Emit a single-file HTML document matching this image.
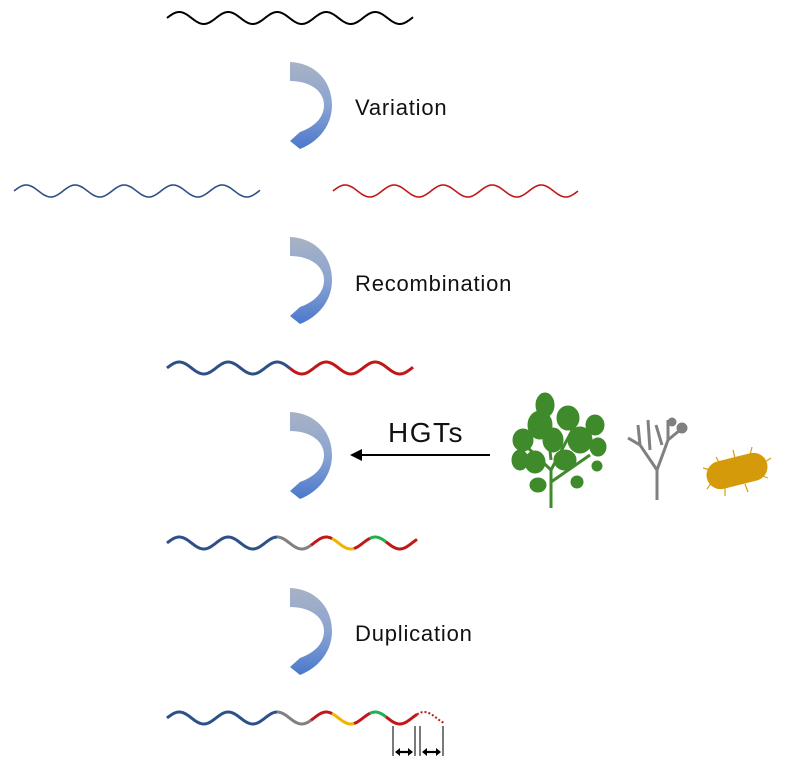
<!DOCTYPE html>
<html><head><meta charset="utf-8"><style>
body{margin:0;background:#fff;}
svg{display:block;}
text{font-family:"Liberation Sans",sans-serif;fill:#111;}
</style></head><body>
<svg id="s" width="785" height="768" viewBox="0 0 785 768" xmlns="http://www.w3.org/2000/svg">
<defs>
<linearGradient id="g" x1="0" y1="0" x2="0" y2="1">
<stop offset="0" stop-color="#a9b2c4"/><stop offset="0.5" stop-color="#8aa4d2"/><stop offset="1" stop-color="#4a78cc"/>
</linearGradient>
<path id="arr" d="M290,62 C316,63 332,82 332,105 C332,126 318,142 300,149 L290,141 L300,132 C314,127 324,118 324,105 C324,91 310,81 290,81 Z" fill="url(#g)"/>
</defs>
<use href="#arr"/>
<use href="#arr" y="175"/>
<use href="#arr" y="350"/>
<use href="#arr" y="526"/>
<text x="355" y="115" font-size="22" letter-spacing="0.8" font-weight="300">Variation</text>
<text x="355" y="291" font-size="22" letter-spacing="0.8">Recombination</text>
<text x="355" y="641" font-size="22" letter-spacing="0.8">Duplication</text>
<text x="388" y="442" font-size="28" letter-spacing="1.5">HGTs</text>
<line x1="490" y1="455" x2="358" y2="455" stroke="#000" stroke-width="2"/>
<path d="M350,455 L362,449 L362,461 Z" fill="#000"/>
<g id="w"></g>
<g stroke="#333" stroke-width="1.3">
<line x1="393" y1="726" x2="393" y2="756"/><line x1="415" y1="726" x2="415" y2="756"/>
<line x1="420" y1="726" x2="420" y2="756"/><line x1="443" y1="726" x2="443" y2="756"/>
</g>
<g stroke="#000" stroke-width="2.2">
<line x1="398" y1="752" x2="410" y2="752"/><line x1="425" y1="752" x2="438" y2="752"/>
</g>
<g fill="#000">
<path d="M395,752 L400,748 L400,756Z"/><path d="M413,752 L408,748 L408,756Z"/>
<path d="M422,752 L427,748 L427,756Z"/><path d="M441,752 L436,748 L436,756Z"/>
</g>
<!-- bush -->
<g fill="#3f8a2a" stroke="#3f8a2a">
<path d="M551,508 L551,470 L525,445 M551,470 L575,425 M551,482 L590,455 M551,460 L545,405" stroke-width="3" fill="none"/>
<ellipse cx="545" cy="405" rx="9" ry="12"/>
<ellipse cx="540" cy="425" rx="12" ry="14"/>
<ellipse cx="553" cy="440" rx="10" ry="12"/>
<ellipse cx="523" cy="440" rx="10" ry="11"/>
<ellipse cx="520" cy="460" rx="8" ry="10"/>
<ellipse cx="535" cy="462" rx="10" ry="11"/>
<ellipse cx="568" cy="418" rx="11" ry="12"/>
<ellipse cx="580" cy="440" rx="12" ry="13"/>
<ellipse cx="595" cy="425" rx="9" ry="10"/>
<ellipse cx="598" cy="447" rx="8" ry="9"/>
<ellipse cx="565" cy="460" rx="11" ry="10"/>
<ellipse cx="538" cy="485" rx="8" ry="7"/>
<circle cx="577" cy="482" r="6"/><circle cx="597" cy="466" r="5"/>
</g>
<!-- tree -->
<g stroke="#808080" fill="none" stroke-width="3">
<path d="M657,500 L657,470 L640,445 L638,425 M657,470 L668,440 L668,420 M640,445 L628,438 M668,440 L680,430 M650,450 L648,420 M662,445 L656,425"/>
<circle cx="682" cy="428" r="4" fill="#808080"/><circle cx="672" cy="422" r="3" fill="#808080"/>
</g>
<!-- bacteria -->
<g stroke="#d8a010" stroke-width="1.2">
<line x1="710" y1="470" x2="703" y2="468"/><line x1="712" y1="482" x2="707" y2="489"/><line x1="725" y1="488" x2="725" y2="496"/><line x1="745" y1="484" x2="748" y2="492"/><line x1="760" y1="475" x2="768" y2="478"/><line x1="765" y1="462" x2="771" y2="458"/><line x1="750" y1="455" x2="752" y2="447"/><line x1="735" y1="458" x2="733" y2="450"/><line x1="720" y1="464" x2="716" y2="457"/>
</g>
<rect x="706" y="457" width="62" height="28" rx="14" fill="#d49a0a" transform="rotate(-14 737 471)"/>
</svg>
<script>
var g=document.getElementById('w');
function wave(x0,x1,y,amp,per,phase,col,sw,dash){
 var p='';for(var x=x0;x<=x1+0.01;x+=1){var yy=y-amp*Math.sin((x-phase)*2*Math.PI/per);p+=(p?' L':'M')+x.toFixed(1)+','+yy.toFixed(1);}
 var e=document.createElementNS('http://www.w3.org/2000/svg','path');e.setAttribute('d',p);e.setAttribute('stroke',col);e.setAttribute('stroke-width',sw);e.setAttribute('fill','none');if(dash)e.setAttribute('stroke-dasharray',dash);g.appendChild(e);}
wave(167,413,18,6,49,167,'#000',2);
wave(14,260,191,6,49,14,'#2e5088',1.6);
wave(333,578,191,6,49,333,'#c01818',1.6);
wave(167,290,368,6,49,167,'#2e5088',3);
wave(290,413,368,6,49,167,'#c01818',3);
var segs=[[167,277,'#2e5088'],[277,311,'#808080'],[311,332,'#c01818'],[332,354,'#f0b400'],[354,370,'#c01818'],[370,386,'#20b050'],[386,417,'#c01818']];
segs.forEach(function(s){wave(s[0],s[1],543,6,49,167,s[2],3);wave(s[0],s[1],718,6,49,167,s[2],3);});
wave(417,445,718,6,49,167,'#c01818',2,'2,2');
</script>
</body></html>
